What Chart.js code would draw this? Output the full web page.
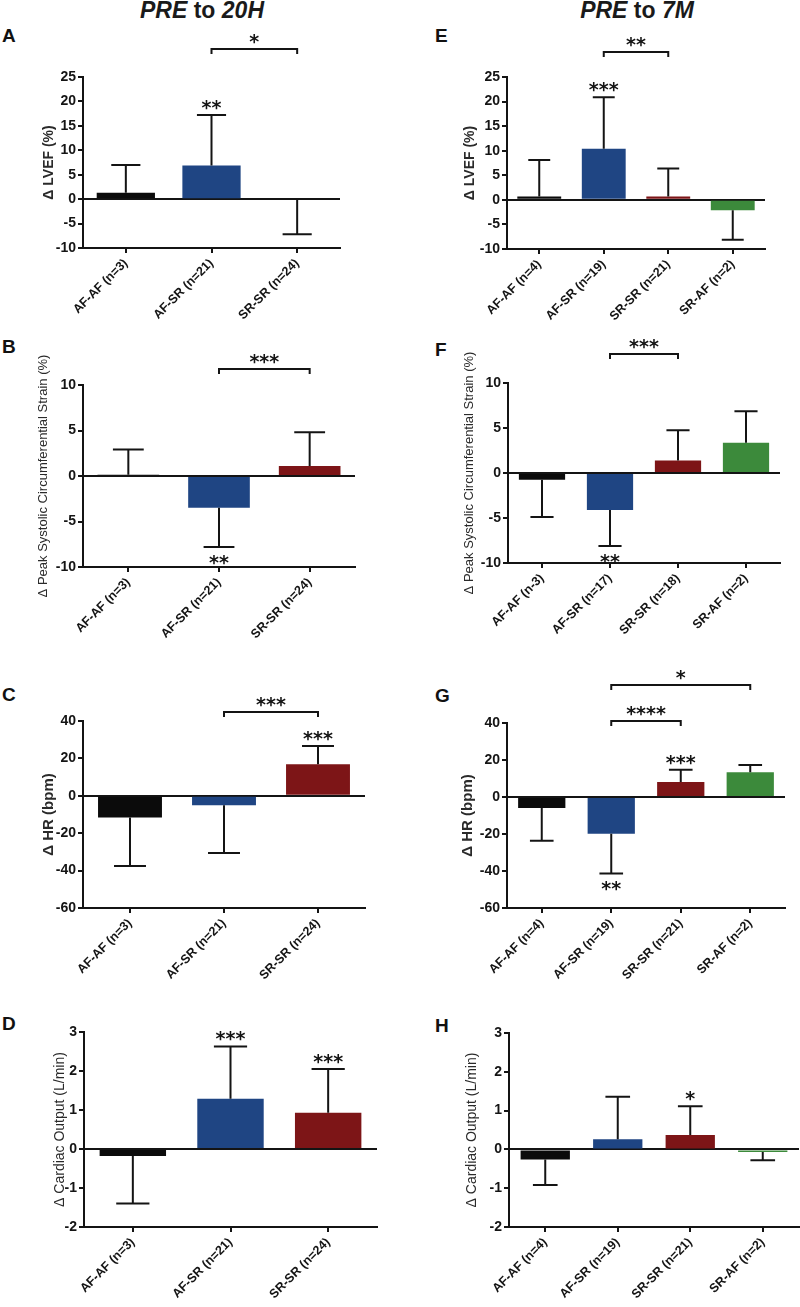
<!DOCTYPE html>
<html><head><meta charset="utf-8">
<script src="https://cdn.jsdelivr.net/npm/chart.js@4.4.1/dist/chart.umd.min.js"></script>
<style>
html,body{margin:0;padding:0;background:#fff;}
#root{position:relative;width:800px;height:1307px;overflow:hidden;font-family:"Liberation Sans",Arial,sans-serif;background:#fff;}
.hdr{position:absolute;top:-1px;font-weight:bold;font-size:23px;line-height:1;white-space:nowrap;transform:translateX(-50%);color:#1a1a1a;}
.hdr i{font-style:italic;}
.let{position:absolute;font-weight:bold;font-size:19px;line-height:1;color:#111;}
.pane{position:absolute;}
.pane canvas{display:block;}
</style></head><body><div id="root">
<div class="hdr" style="left:202px"><i>PRE</i> to <i>20H</i></div>
<div class="hdr" style="left:637px"><i>PRE</i> to <i>7M</i></div>
</div>
<script>
// ---------- DATA ----------
const catsPre20 = ['AF-AF (n=3)', 'AF-SR (n=21)', 'SR-SR (n=24)'];
const cats7mE = ['AF-AF (n=4)', 'AF-SR (n=19)', 'SR-SR (n=21)', 'SR-AF (n=2)'];
const cats7mF = ['AF-AF (n-3)', 'AF-SR (n=17)', 'SR-SR (n=18)', 'SR-AF (n=2)'];

// A: Δ LVEF (%) PRE to 20H
const meanA = [1.3, 6.9, 0.0];
const errEndA = [7.0, 17.2, -7.2];
const sigA = ['', '**', ''];
const bracketsA = [{ from: 1, to: 2, label: '*' }];
// B: Δ Peak systolic circumferential strain (%) PRE to 20H
const meanB = [0.15, -3.5, 1.1];
const errEndB = [2.9, -7.8, 4.8];
const sigB = ['', '**', ''];
const bracketsB = [{ from: 1, to: 2, label: '***' }];
// C: Δ HR (bpm) PRE to 20H
const meanC = [-11.6, -5.0, 16.9];
const errEndC = [-37.6, -30.6, 26.6];
const sigC = ['', '', '***'];
const bracketsC = [{ from: 1, to: 2, label: '***' }];
// D: Δ Cardiac output (L/min) PRE to 20H
const meanD = [-0.18, 1.29, 0.93];
const errEndD = [-1.4, 2.63, 2.05];
const sigD = ['', '***', '***'];
const bracketsD = [];
// E: Δ LVEF (%) PRE to 7M
const meanE = [0.7, 10.4, 0.7, -2.1];
const errEndE = [8.1, 20.9, 6.4, -8.1];
const sigE = ['', '***', '', ''];
const bracketsE = [{ from: 1, to: 2, label: '**' }];
// F: Δ Peak systolic circumferential strain (%) PRE to 7M
const meanF = [-0.75, -4.1, 1.4, 3.35];
const errEndF = [-4.9, -8.1, 4.75, 6.85];
const sigF = ['', '**', '', ''];
const bracketsF = [{ from: 1, to: 2, label: '***' }];
// G: Δ HR (bpm) PRE to 7M
const meanG = [-5.9, -19.8, 8.1, 13.4];
const errEndG = [-23.6, -41.3, 14.7, 17.3];
const sigG = ['', '**', '***', ''];
const bracketsG = [{ from: 1, to: 2, label: '****' }, { from: 1, to: 3, label: '*' }];
// H: Δ Cardiac output (L/min) PRE to 7M
const meanH = [-0.26, 0.26, 0.37, -0.07];
const errEndH = [-0.92, 1.36, 1.11, -0.28];
const sigH = ['', '', '*', ''];
const bracketsH = [];

// y-axis tick ranges
const yTicksLVEF = { min: -10, max: 25, step: 5 };
const yTicksStrain = { min: -10, max: 10, step: 5 };
const yTicksHR = { min: -60, max: 40, step: 20 };
const yTicksCO = { min: -2, max: 3, step: 1 };

const titleLVEF = 'Δ LVEF (%)';
const titleStrain = 'Δ Peak Systolic Circumferential Strain (%)';
const titleHR = 'Δ HR (bpm)';
const titleCO = 'Δ Cardiac Output (L/min)';

// ---------- STYLE / LAYOUT ----------
const groupColors = { 'AF-AF': '#0b0b0b', 'AF-SR': '#1f4583', 'SR-SR': '#7d1517', 'SR-AF': '#3c8a3b' };
const INK = '#141414';
const FONT = '"Liberation Sans", Arial, sans-serif';

const panels = [
  { letter: 'A', letterPos: [2, 26], cats: catsPre20, mean: meanA, err: errEndA, sig: sigA, brackets: bracketsA, bracketGap: [28],
    yr: yTicksLVEF, title: titleLVEF, tFont: { size: 14, weight: 'bold' }, titleX: 49,
    box: [0, 25, 400, 305], area: [83, 340, 77, 248] },
  { letter: 'B', letterPos: [2, 337], cats: catsPre20, mean: meanB, err: errEndB, sig: sigB, brackets: bracketsB, bracketGap: [16],
    yr: yTicksStrain, title: titleStrain, tFont: { size: 13, weight: 'normal' }, titleX: 43,
    box: [0, 330, 400, 320], area: [83, 355, 385, 567] },
  { letter: 'C', letterPos: [2, 685], cats: catsPre20, mean: meanC, err: errEndC, sig: sigC, brackets: bracketsC, bracketGap: [9],
    yr: yTicksHR, title: titleHR, tFont: { size: 15, weight: 'bold' }, titleX: 49,
    box: [0, 650, 400, 330], area: [83, 365, 721, 908] },
  { letter: 'D', letterPos: [2, 1014], cats: catsPre20, mean: meanD, err: errEndD, sig: sigD, brackets: bracketsD, bracketGap: [],
    yr: yTicksCO, title: titleCO, tFont: { size: 14, weight: 'normal' }, titleX: 60,
    box: [0, 980, 400, 327], area: [84, 377, 1032, 1227] },
  { letter: 'E', letterPos: [435, 26], cats: cats7mE, mean: meanE, err: errEndE, sig: sigE, brackets: bracketsE, bracketGap: [25],
    yr: yTicksLVEF, title: titleLVEF, tFont: { size: 14, weight: 'bold' }, titleX: 470,
    box: [400, 25, 400, 305], area: [507, 765, 77, 249] },
  { letter: 'F', letterPos: [435, 340], cats: cats7mF, mean: meanF, err: errEndF, sig: sigF, brackets: bracketsF, bracketGap: [29],
    yr: yTicksStrain, title: titleStrain, tFont: { size: 13, weight: 'normal' }, titleX: 469,
    box: [400, 330, 400, 320], area: [508, 780, 383, 563] },
  { letter: 'G', letterPos: [435, 686], cats: cats7mE, mean: meanG, err: errEndG, sig: sigG, brackets: bracketsG, bracketGap: [2, 38],
    yr: yTicksHR, title: titleHR, tFont: { size: 15, weight: 'bold' }, titleX: 468,
    box: [400, 650, 400, 330], area: [507, 785, 723, 908] },
  { letter: 'H', letterPos: [435, 1016], cats: cats7mE, mean: meanH, err: errEndH, sig: sigH, brackets: bracketsH, bracketGap: [],
    yr: yTicksCO, title: titleCO, tFont: { size: 14, weight: 'normal' }, titleX: 472,
    box: [400, 980, 400, 327], area: [509, 799, 1033, 1227] },
];

// ---------- PLUGIN: error bars, stars, brackets ----------
const STAR_FONT = 'bold 19px "DejaVu Sans"';
function drawStars(ctx, text, x, cy) {
  ctx.save();
  ctx.font = STAR_FONT;
  ctx.fillStyle = INK;
  ctx.textAlign = 'center';
  ctx.textBaseline = 'alphabetic';
  ctx.fillText(text, x, cy + 10);
  ctx.restore();
}
const annotPlugin = {
  id: 'annot',
  afterDatasetsDraw(chart, args, opts) {
    const ctx = chart.ctx, ys = chart.scales.y;
    const meta = chart.getDatasetMeta(0);
    ctx.save();
    ctx.strokeStyle = INK; ctx.lineWidth = 2; ctx.lineCap = 'butt';
    opts.err.forEach((e, i) => {
      const bar = meta.data[i];
      const { x, width } = bar.getProps(['x', 'width'], true);
      const y0 = ys.getPixelForValue(opts.mean[i]);
      const y1 = ys.getPixelForValue(e);
      ctx.beginPath();
      ctx.moveTo(x, y0); ctx.lineTo(x, y1);
      ctx.moveTo(x - width / 4, y1); ctx.lineTo(x + width / 4, y1);
      ctx.stroke();
    });
    ctx.restore();
  },
  afterDraw(chart, args, opts) {
    const ctx = chart.ctx, ys = chart.scales.y, xs = chart.scales.x;
    const meta = chart.getDatasetMeta(0);
    opts.sig.forEach((s, i) => {
      if (!s) return;
      const x = meta.data[i].x;
      const y1 = ys.getPixelForValue(opts.err[i]);
      const up = opts.err[i] >= opts.mean[i];
      drawStars(ctx, s, x, up ? y1 - 11 : y1 + 12);
    });
    ctx.save();
    ctx.strokeStyle = INK; ctx.lineWidth = 2;
    opts.brackets.forEach((b, k) => {
      const x1 = xs.getPixelForValue(b.from), x2 = xs.getPixelForValue(b.to);
      const y = chart.chartArea.top - opts.bracketGap[k];
      ctx.beginPath();
      ctx.moveTo(x1, y + 5); ctx.lineTo(x1, y); ctx.lineTo(x2, y); ctx.lineTo(x2, y + 5);
      ctx.stroke();
      drawStars(ctx, b.label, (x1 + x2) / 2, y - 11);
    });
    ctx.restore();
  }
};

// ---------- BUILD ----------
const root = document.getElementById('root');
panels.forEach(p => {
  const [cl, ct, cw, ch] = p.box;
  const [aL, aR, aT, aB] = p.area;
  const lt = document.createElement('div');
  lt.className = 'let';
  lt.style.left = p.letterPos[0] + 'px'; lt.style.top = p.letterPos[1] + 'px';
  lt.textContent = p.letter;
  root.appendChild(lt);

  const div = document.createElement('div');
  div.className = 'pane';
  div.style.left = cl + 'px'; div.style.top = ct + 'px';
  div.style.width = cw + 'px'; div.style.height = ch + 'px';
  const cv = document.createElement('canvas');
  cv.width = cw; cv.height = ch;
  cv.style.width = cw + 'px'; cv.style.height = ch + 'px';
  div.appendChild(cv);
  root.appendChild(div);

  const yW = aL - cl, xH = ct + ch - aB, padTop = aT - ct, padRight = cl + cw - aR;
  const titlePad = p.titleX - cl - p.tFont.size * 0.6;

  new Chart(cv, {
    type: 'bar',
    data: {
      labels: p.cats,
      datasets: [{
        data: p.mean,
        backgroundColor: p.cats.map(c => groupColors[c.slice(0, 5)]),
        borderWidth: 0,
        barPercentage: 0.68,
        categoryPercentage: 1.0
      }]
    },
    options: {
      responsive: false,
      animation: false,
      devicePixelRatio: 1,
      layout: { padding: { top: padTop, right: padRight, left: 0, bottom: 0 } },
      plugins: {
        legend: { display: false },
        tooltip: { enabled: false },
        annot: { mean: p.mean, err: p.err, sig: p.sig, brackets: p.brackets, bracketGap: p.bracketGap }
      },
      scales: {
        x: {
          ticks: { color: INK, font: { family: FONT, weight: 'bold', size: 12.5 }, minRotation: 45, maxRotation: 45, padding: 3, autoSkip: false },
          grid: { display: true, offset: false, drawOnChartArea: false, tickColor: INK, lineWidth: 2, tickLength: 5 },
          border: { display: true, color: INK, width: 2 },
          afterFit: s => { s.height = xH; }
        },
        y: {
          min: p.yr.min, max: p.yr.max,
          ticks: { stepSize: p.yr.step, color: INK, font: { family: FONT, weight: 'bold', size: 14 }, padding: 2 },
          grid: {
            drawOnChartArea: true,
            color: c => (c.tick && c.tick.value === 0) ? INK : 'rgba(0,0,0,0)',
            tickColor: INK, lineWidth: 2, tickLength: 5
          },
          border: { display: true, color: INK, width: 2 },
          title: { display: true, text: p.title, color: '#2a2a2a', font: { family: FONT, size: p.tFont.size, weight: p.tFont.weight }, padding: { top: titlePad, bottom: 0 } },
          z: 1,
          afterFit: s => { s.width = yW; }
        }
      }
    },
    plugins: [annotPlugin]
  });
});
</script>
</body></html>
